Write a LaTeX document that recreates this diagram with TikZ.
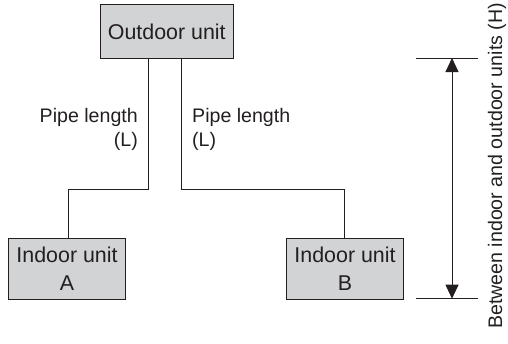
\documentclass[tikz,border=0pt]{standalone}
\usepackage{fontspec}
\setmainfont{Liberation Sans}
\usetikzlibrary{arrows.meta}
\definecolor{boxgray}{RGB}{209,211,212}
\definecolor{inkc}{RGB}{35,31,32}
\tikzset{
  unitbox/.style={draw=inkc,fill=boxgray,line width=1.1pt,anchor=north west,inner sep=0pt,align=center,text=inkc},
  lbl/.style={inner sep=0pt,text=inkc,font=\fontsize{19.6}{24}\selectfont},
  pipe/.style={draw=inkc,line width=1pt},
  tick/.style={draw=inkc,line width=1pt},
  dim/.style={draw=inkc,line width=1pt,{Triangle[length=14pt,width=13pt]}-{Triangle[length=14pt,width=13pt]},shorten >=0pt,shorten <=0pt}
}
\begin{document}
\begin{tikzpicture}[x=1pt,y=-1pt]
\useasboundingbox (0,0) rectangle (508,343);
\node[unitbox,minimum width=133.5pt,minimum height=54pt,font=\fontsize{21.4}{24}\selectfont] (out) at (99.5,4) {Outdoor unit};
\node[unitbox,minimum width=117pt,minimum height=60.7pt,font=\fontsize{21.4}{28}\selectfont] (a) at (8,238) {Indoor unit\\A};
\node[unitbox,minimum width=117pt,minimum height=60.7pt,font=\fontsize{21.4}{28}\selectfont] (b) at (286,238) {Indoor unit\\B};
\coordinate (ol) at (148,58);
\coordinate (or) at (181,58);
\coordinate (al) at (68,238);
\coordinate (br) at (344.7,238);
\draw[pipe] (ol) |- (148,189) -| (al);
\draw[pipe] (or) |- (181,189) -| (br);
\node[lbl,anchor=base east] (l1) at (138,122) {Pipe length};
\node[lbl,anchor=base east] (l2) at (138,146) {(L)};
\node[lbl,anchor=base west] (r1) at (192,122) {Pipe length};
\node[lbl,anchor=base west] (r2) at (192,146) {(L)};
\coordinate (t1) at (416,58);
\coordinate (t2) at (478,58);
\coordinate (b1) at (416,298.7);
\coordinate (b2) at (478,298.7);
\draw[tick] (t1) -- (t2);
\draw[tick] (b1) -- (b2);
\coordinate (at) at (452,58);
\coordinate (ab) at (452,298.7);
\draw[dim] (at) -- (ab);
\node[lbl,rotate=90,anchor=base west] (h) at (502,329) {Between indoor and outdoor units (H)};
\end{tikzpicture}
\end{document}
